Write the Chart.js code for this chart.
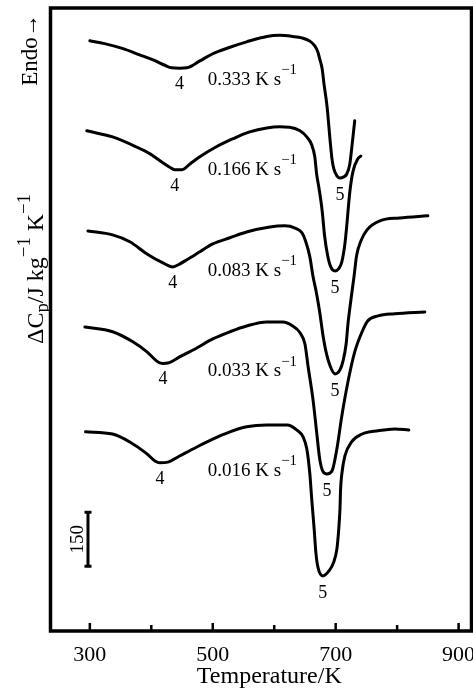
<!DOCTYPE html>
<html>
<head>
<meta charset="utf-8">
<script src="https://cdn.jsdelivr.net/npm/chart.js@4.4.1/dist/chart.umd.min.js"></script>
<style>
  html, body { margin: 0; padding: 0; background: #fff; }
  #dsc { display: block; }
</style>
</head>
<body>
<canvas id="dsc" width="473" height="690"></canvas>
<script>
// heating rates (K s-1), top trace first
var rates = ['0.333', '0.166', '0.083', '0.033', '0.016'];

// temperature (K) and vertically shifted ΔCp (J kg-1 K-1) of each trace
var temp1 = [300, 324, 354, 381, 403, 422, 433, 446, 458, 479, 500, 528, 555, 588, 609, 630, 645, 658, 666, 671, 674, 678, 681, 686, 691, 694, 697, 702, 707, 713, 718, 723, 726, 731];
var cp1 = [1639, 1631, 1617, 1600, 1586, 1571, 1564, 1563, 1564, 1583, 1603, 1621, 1636, 1651, 1654, 1651, 1647, 1638, 1625, 1608, 1589, 1561, 1519, 1456, 1361, 1311, 1283, 1264, 1258, 1261, 1269, 1297, 1339, 1417];

var temp2 = [295, 337, 376, 398, 414, 430, 438, 450, 463, 479, 503, 533, 560, 588, 609, 625, 642, 653, 661, 666, 669, 673, 678, 682, 687, 692, 699, 705, 710, 715, 718, 723, 728, 736, 741];
var cp2 = [1389, 1372, 1344, 1325, 1306, 1288, 1281, 1281, 1297, 1317, 1342, 1367, 1386, 1397, 1400, 1399, 1389, 1372, 1350, 1317, 1269, 1228, 1167, 1097, 1042, 1011, 1000, 1006, 1025, 1075, 1125, 1219, 1275, 1311, 1319];

var temp3 = [297, 337, 365, 393, 419, 435, 446, 458, 479, 500, 528, 555, 593, 617, 634, 645, 651, 658, 663, 669, 674, 679, 684, 691, 699, 707, 712, 717, 720, 725, 730, 734, 741, 751, 772, 804, 850];
var cp3 = [1111, 1100, 1081, 1047, 1022, 1011, 1019, 1031, 1053, 1075, 1092, 1108, 1122, 1125, 1119, 1106, 1083, 1039, 986, 936, 886, 825, 778, 736, 714, 725, 750, 797, 853, 922, 986, 1042, 1083, 1114, 1139, 1147, 1153];

var temp4 = [292, 337, 370, 393, 411, 419, 427, 446, 474, 500, 528, 555, 588, 614, 630, 642, 650, 655, 663, 669, 674, 679, 686, 694, 702, 710, 720, 731, 743, 752, 769, 796, 845];
var cp4 = [844, 831, 803, 775, 747, 743, 744, 761, 786, 811, 831, 847, 858, 858, 847, 828, 797, 736, 644, 553, 478, 444, 436, 444, 506, 597, 692, 775, 831, 861, 875, 881, 886];

var temp5 = [293, 337, 365, 393, 406, 414, 427, 446, 474, 500, 528, 555, 588, 621, 637, 647, 653, 658, 661, 665, 668, 671, 679, 689, 697, 702, 705, 707, 708, 710, 715, 726, 743, 769, 796, 819];
var cp5 = [553, 547, 525, 492, 472, 467, 469, 486, 511, 533, 553, 567, 572, 572, 558, 539, 506, 436, 367, 283, 214, 178, 153, 167, 192, 228, 283, 339, 394, 436, 486, 525, 547, 556, 561, 558];

var xTicks = [300, 500, 700, 900];
var scaleBar = 150;

var temps = [temp1, temp2, temp3, temp4, temp5];
var cps = [cp1, cp2, cp3, cp4, cp5];

// where each rate label sits: temperature, ΔCp of its baseline
var rateAt = [[492, 1517], [492, 1267], [492, 986], [492, 708], [492, 431]];

var serif = '"Liberation Serif", "Times New Roman", serif';

function lowest(ts, cs, lo, hi) {
    var k = -1;
    for (var i = 0; i < ts.length; i++) {
        if (ts[i] >= lo && ts[i] <= hi && (k < 0 || cs[i] < cs[k])) k = i;
    }
    return k;
}

// text with superscripts/subscripts, parts = [[text, 'sup'|'sub'|''], ...]
function richWidth(ctx, parts, size) {
    var w = 0;
    parts.forEach(function (p) {
        ctx.font = (p[1] ? size * 0.78 : size) + 'px ' + serif;
        w += ctx.measureText(p[0]).width;
    });
    return w;
}
function drawRich(ctx, parts, x, y, size) {
    var w = 0;
    ctx.textAlign = 'left';
    ctx.textBaseline = 'alphabetic';
    parts.forEach(function (p) {
        ctx.font = (p[1] ? size * 0.78 : size) + 'px ' + serif;
        var dy = p[1] == 'sup' ? -size * 0.55 : (p[1] == 'sub' ? size * 0.22 : 0);
        ctx.fillText(p[0], x + w, y + dy);
        w += ctx.measureText(p[0]).width;
    });
}

var decor = {
    id: 'decor',
    afterDraw: function (chart) {
        var ctx = chart.ctx, a = chart.chartArea;
        var xs = chart.scales.x, ys = chart.scales.y;
        ctx.save();
        ctx.strokeStyle = '#000';
        ctx.fillStyle = '#000';

        // frame
        ctx.lineWidth = 3.5;
        ctx.strokeRect(a.left, a.top, a.right - a.left, a.bottom - a.top);

        // inward ticks every 100 K
        ctx.lineWidth = 2.5;
        for (var t = 300; t <= 900; t += 100) {
            var px = xs.getPixelForValue(t);
            var len = xTicks.indexOf(t) >= 0 ? 8 : 6;
            ctx.beginPath();
            ctx.moveTo(px, a.bottom);
            ctx.lineTo(px, a.bottom - len);
            ctx.stroke();
        }

        // x axis title, a little right of the axis centre
        ctx.font = '24px ' + serif;
        ctx.textAlign = 'center';
        ctx.textBaseline = 'alphabetic';
        ctx.fillText('Temperature/K', xs.getPixelForValue(592), 683);

        // peak numbers under the two minima of each trace
        ctx.font = '18px ' + serif;
        for (var i = 0; i < temps.length; i++) {
            var k4 = lowest(temps[i], cps[i], 380, 500);
            var k5 = lowest(temps[i], cps[i], 640, 760);
            ctx.fillText('4', xs.getPixelForValue(temps[i][k4]), ys.getPixelForValue(cps[i][k4]) + 21);
            ctx.fillText('5', xs.getPixelForValue(temps[i][k5]), ys.getPixelForValue(cps[i][k5]) + 22);
        }

        // heating rate labels
        for (var j = 0; j < rates.length; j++) {
            drawRich(ctx, [[rates[j] + ' K s', ''], ['\u22121', 'sup']],
                xs.getPixelForValue(rateAt[j][0]), ys.getPixelForValue(rateAt[j][1]), 19);
        }

        // 150 J kg-1 K-1 scale bar
        var bx = xs.getPixelForValue(297);
        var y0 = ys.getPixelForValue(180), y1 = ys.getPixelForValue(180 + scaleBar);
        ctx.lineWidth = 3;
        ctx.beginPath();
        ctx.moveTo(bx, y0); ctx.lineTo(bx, y1);
        ctx.moveTo(bx - 3.5, y0); ctx.lineTo(bx + 3.5, y0);
        ctx.moveTo(bx - 3.5, y1); ctx.lineTo(bx + 3.5, y1);
        ctx.stroke();
        ctx.save();
        ctx.translate(bx - 5, (y0 + y1) / 2);
        ctx.rotate(-Math.PI / 2);
        ctx.font = '19px ' + serif;
        ctx.textAlign = 'center';
        ctx.fillText(String(scaleBar), 0, 0);
        ctx.restore();

        // y axis title and direction mark
        var yTitle = [['\u0394C', ''], ['p', 'sub'], ['/J kg', ''], ['\u22121', 'sup'], [' K', ''], ['\u22121', 'sup']];
        ctx.save();
        ctx.translate(43, 269);
        ctx.rotate(-Math.PI / 2);
        drawRich(ctx, yTitle, -richWidth(ctx, yTitle, 24) / 2, 0, 24);
        ctx.restore();

        ctx.save();
        ctx.translate(37, 50);
        ctx.rotate(-Math.PI / 2);
        ctx.font = '23px ' + serif;
        ctx.textAlign = 'center';
        ctx.textBaseline = 'alphabetic';
        ctx.fillText('Endo\u2192', 0, 0);
        ctx.restore();

        ctx.restore();
    }
};

var datasets = temps.map(function (ts, i) {
    return {
        label: rates[i] + ' K/s',
        data: ts.map(function (t, n) { return { x: t, y: cps[i][n] }; }),
        borderColor: '#000',
        borderWidth: 3,
        pointRadius: 0,
        cubicInterpolationMode: 'monotone',
        borderCapStyle: 'round',
        borderJoinStyle: 'round'
    };
});

var dscChart = new Chart(document.getElementById('dsc'), {
    type: 'line',
    data: { datasets: datasets },
    options: {
        responsive: false,
        animation: false,
        devicePixelRatio: 1,
        layout: { padding: { left: 50.5, top: 8, right: 1.5, bottom: 0 } },
        plugins: { legend: { display: false }, tooltip: { enabled: false } },
        scales: {
            x: {
                type: 'linear',
                min: 236,
                max: 921,
                afterBuildTicks: function (s) {
                    s.ticks = xTicks.map(function (v) { return { value: v }; });
                },
                afterFit: function (s) {
                    s.height = 59;
                    s.paddingLeft = 0;
                    s.paddingRight = 0;
                },
                grid: { display: false, drawTicks: false },
                border: { display: false },
                ticks: {
                    color: '#000',
                    font: { family: serif, size: 22 },
                    padding: 11,
                    maxRotation: 0,
                    autoSkip: false
                }
            },
            y: { display: false, min: 0, max: 1730 }
        }
    },
    plugins: [decor]
});
</script>
</body>
</html>
